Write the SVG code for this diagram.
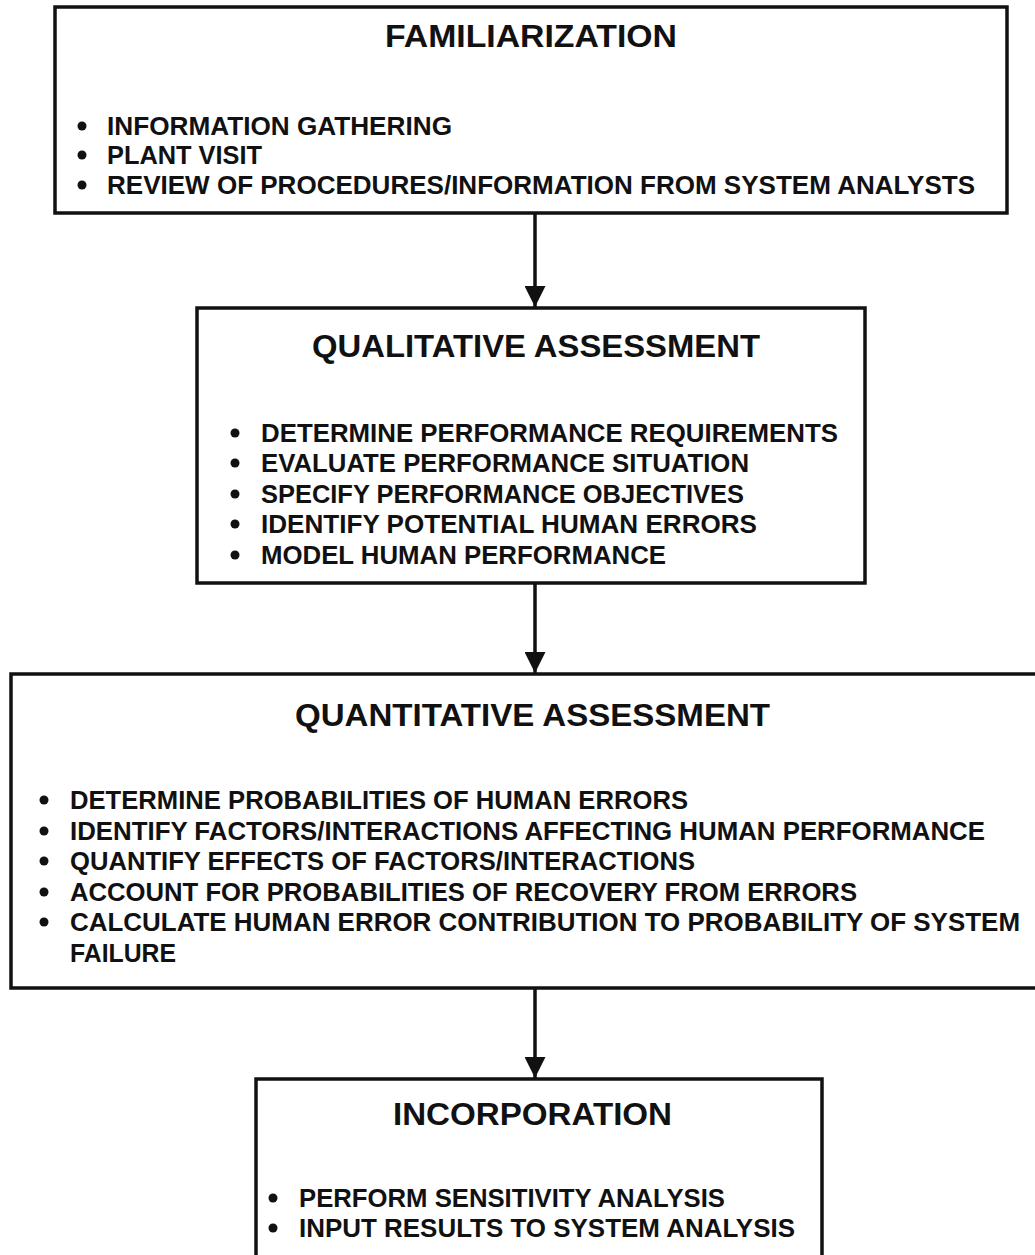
<svg xmlns="http://www.w3.org/2000/svg" width="1035" height="1255" viewBox="0 0 1035 1255">
<style>
.box{fill:#fff;stroke:#111;stroke-width:3.5}
.title{font-family:"Liberation Sans",Arial,sans-serif;font-size:32px;font-weight:bold;fill:#111}
.item{font-family:"Liberation Sans",Arial,sans-serif;font-size:26px;font-weight:bold;fill:#111}
.dot{fill:#111}
.conn{stroke:#111;stroke-width:3.5;fill:none}
</style>
<defs>
<marker id="ah" viewBox="0 0 10 10" refX="10" refY="5" markerWidth="6" markerHeight="6" markerUnits="strokeWidth" orient="auto">
<path d="M0,0 L10,5 L0,10 Z" fill="#111"/>
</marker>
</defs>
<rect width="1035" height="1255" fill="#fff"/>
<g id="familiarization">
<rect class="box" x="55" y="7" width="952" height="206"/>
<text class="title" x="385" y="47" textLength="292" lengthAdjust="spacingAndGlyphs">FAMILIARIZATION</text>
<circle class="dot" cx="82" cy="126" r="4.5"/>
<circle class="dot" cx="82" cy="155" r="4.5"/>
<circle class="dot" cx="82" cy="185" r="4.5"/>
<text class="item" x="107" y="135" textLength="345" lengthAdjust="spacingAndGlyphs">INFORMATION GATHERING</text>
<text class="item" x="107" y="164" textLength="155" lengthAdjust="spacingAndGlyphs">PLANT VISIT</text>
<text class="item" x="107" y="194" textLength="868" lengthAdjust="spacingAndGlyphs">REVIEW OF PROCEDURES/INFORMATION FROM SYSTEM ANALYSTS</text>
</g>
<g id="qualitative">
<rect class="box" x="197" y="308" width="668" height="275"/>
<text class="title" x="312" y="357" textLength="448" lengthAdjust="spacingAndGlyphs">QUALITATIVE ASSESSMENT</text>
<circle class="dot" cx="235" cy="433" r="4.5"/>
<circle class="dot" cx="235" cy="463" r="4.5"/>
<circle class="dot" cx="235" cy="494" r="4.5"/>
<circle class="dot" cx="235" cy="524" r="4.5"/>
<circle class="dot" cx="235" cy="555" r="4.5"/>
<text class="item" x="261" y="442" textLength="577" lengthAdjust="spacingAndGlyphs">DETERMINE PERFORMANCE REQUIREMENTS</text>
<text class="item" x="261" y="472" textLength="488" lengthAdjust="spacingAndGlyphs">EVALUATE PERFORMANCE SITUATION</text>
<text class="item" x="261" y="503" textLength="483" lengthAdjust="spacingAndGlyphs">SPECIFY PERFORMANCE OBJECTIVES</text>
<text class="item" x="261" y="533" textLength="496" lengthAdjust="spacingAndGlyphs">IDENTIFY POTENTIAL HUMAN ERRORS</text>
<text class="item" x="261" y="564" textLength="405" lengthAdjust="spacingAndGlyphs">MODEL HUMAN PERFORMANCE</text>
</g>
<g id="quantitative">
<rect class="box" x="11" y="674" width="1040" height="314"/>
<text class="title" x="295" y="726" textLength="475" lengthAdjust="spacingAndGlyphs">QUANTITATIVE ASSESSMENT</text>
<circle class="dot" cx="44" cy="800" r="4.5"/>
<circle class="dot" cx="44" cy="831" r="4.5"/>
<circle class="dot" cx="44" cy="861" r="4.5"/>
<circle class="dot" cx="44" cy="892" r="4.5"/>
<circle class="dot" cx="44" cy="922" r="4.5"/>
<text class="item" x="70" y="809" textLength="618" lengthAdjust="spacingAndGlyphs">DETERMINE PROBABILITIES OF HUMAN ERRORS</text>
<text class="item" x="70" y="840" textLength="915" lengthAdjust="spacingAndGlyphs">IDENTIFY FACTORS/INTERACTIONS AFFECTING HUMAN PERFORMANCE</text>
<text class="item" x="70" y="870" textLength="625" lengthAdjust="spacingAndGlyphs">QUANTIFY EFFECTS OF FACTORS/INTERACTIONS</text>
<text class="item" x="70" y="901" textLength="787" lengthAdjust="spacingAndGlyphs">ACCOUNT FOR PROBABILITIES OF RECOVERY FROM ERRORS</text>
<text class="item" x="70" y="931" textLength="950" lengthAdjust="spacingAndGlyphs">CALCULATE HUMAN ERROR CONTRIBUTION TO PROBABILITY OF SYSTEM</text>
<text class="item" x="70" y="962" textLength="106" lengthAdjust="spacingAndGlyphs">FAILURE</text>
</g>
<g id="incorporation">
<rect class="box" x="256" y="1079" width="566" height="200"/>
<text class="title" x="393" y="1125" textLength="279" lengthAdjust="spacingAndGlyphs">INCORPORATION</text>
<circle class="dot" cx="273" cy="1198" r="4.5"/>
<circle class="dot" cx="273" cy="1228" r="4.5"/>
<text class="item" x="299" y="1207" textLength="426" lengthAdjust="spacingAndGlyphs">PERFORM SENSITIVITY ANALYSIS</text>
<text class="item" x="299" y="1237" textLength="496" lengthAdjust="spacingAndGlyphs">INPUT RESULTS TO SYSTEM ANALYSIS</text>
</g>
<g id="connectors">
<line class="conn" x1="535" y1="213" x2="535" y2="307" marker-end="url(#ah)"/>
<line class="conn" x1="535" y1="583" x2="535" y2="673" marker-end="url(#ah)"/>
<line class="conn" x1="535" y1="988" x2="535" y2="1078" marker-end="url(#ah)"/>
</g>
</svg>
